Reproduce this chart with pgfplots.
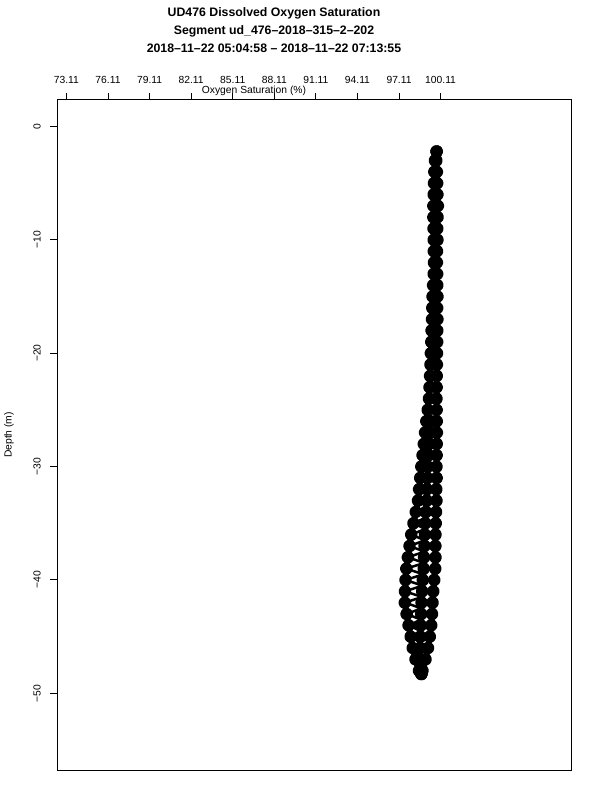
\documentclass[border=0pt]{standalone}
\usepackage{fontspec}
\setmainfont{Liberation Sans}
\usepackage{pgfplots}
\pgfplotsset{compat=1.18}
\pgfplotstableread{
x y
99.82 -2.2
99.80 -3.0
99.84 -4.0
99.86 -5.0
99.88 -6.0
99.91 -7.0
99.89 -8.0
99.87 -9.0
99.88 -10.0
99.85 -11.0
99.84 -12.0
99.86 -13.0
99.87 -14.0
99.88 -15.0
99.86 -16.0
99.88 -17.0
99.87 -18.0
99.86 -19.0
99.85 -20.0
99.84 -21.0
99.83 -22.0
99.82 -23.0
99.81 -24.0
99.82 -25.0
99.83 -26.0
99.84 -27.0
99.83 -28.0
99.82 -29.0
99.81 -30.0
99.82 -31.0
99.80 -32.0
99.81 -33.0
99.78 -34.0
99.76 -35.0
99.74 -36.0
99.73 -37.0
99.74 -38.0
99.72 -39.0
99.65 -40.0
99.58 -41.0
99.53 -42.0
99.49 -43.0
99.43 -44.0
99.33 -45.0
99.20 -46.0
99.02 -47.0
98.80 -48.0
98.72 -48.3
}\rightstrand
\pgfplotstableread{
x y
99.82 -2.2
99.70 -3.0
99.66 -4.0
99.63 -5.0
99.61 -6.0
99.59 -7.0
99.59 -8.0
99.60 -9.0
99.61 -10.0
99.62 -11.0
99.63 -12.0
99.61 -13.0
99.57 -14.0
99.53 -15.0
99.51 -16.0
99.49 -17.0
99.46 -18.0
99.44 -19.0
99.41 -20.0
99.38 -21.0
99.35 -22.0
99.31 -23.0
99.27 -24.0
99.18 -25.0
99.08 -26.0
98.99 -27.0
98.90 -28.0
98.81 -29.0
98.72 -30.0
98.64 -31.0
98.56 -32.0
98.48 -33.0
98.32 -34.0
98.15 -35.0
97.99 -36.0
97.87 -37.0
97.75 -38.0
97.64 -39.0
97.58 -40.0
97.54 -41.0
97.53 -42.0
97.66 -43.0
97.80 -44.0
97.95 -45.0
98.10 -46.0
98.30 -47.0
98.55 -48.0
98.72 -48.3
}\leftstrand
\pgfplotstableread{
x y
99.38 -26.0
99.34 -27.0
99.29 -28.0
99.24 -29.0
99.19 -30.0
99.16 -31.0
99.13 -32.0
99.11 -33.0
99.06 -34.0
99.01 -35.0
98.98 -36.0
98.95 -37.0
98.92 -38.0
98.89 -39.0
98.83 -40.0
98.78 -41.0
98.74 -42.0
98.71 -43.0
98.68 -44.0
98.65 -45.0
98.63 -46.0
98.64 -47.0
98.70 -48.0
}\midstrand
\pgfplotstableread{
x y
98.90 -28.0
99.27 -28.5
98.81 -29.0
99.22 -29.5
98.72 -30.0
99.18 -30.5
98.64 -31.0
99.15 -31.5
98.56 -32.0
99.12 -32.5
98.48 -33.0
99.09 -33.5
98.32 -34.0
99.04 -34.5
98.15 -35.0
99.00 -35.5
97.99 -36.0
98.97 -36.5
97.87 -37.0
98.94 -37.5
97.75 -38.0
98.91 -38.5
97.64 -39.0
98.86 -39.5
97.58 -40.0
98.81 -40.5
97.54 -41.0
98.76 -41.5
97.53 -42.0
98.73 -42.5
97.66 -43.0
98.70 -43.5
97.80 -44.0
98.67 -44.5
97.95 -45.0
98.64 -45.5
98.10 -46.0
98.63 -46.5
98.30 -47.0
}\zigzag
\begin{document}
\begin{tikzpicture}[x=1bp,y=1bp]
\begin{axis}[
  at={(57bp,29bp)}, anchor=south west,
  scale only axis, width=514bp, height=671bp,
  xmin=72.43, xmax=109.52, ymin=-56.85, ymax=2.34,
  axis line style={line width=1bp},
  xtick={73.11,76.11,79.11,82.11,85.11,88.11,91.11,94.11,97.11,100.11},
  xticklabels={73.11,76.11,79.11,82.11,85.11,88.11,91.11,94.11,97.11,100.11},
  ytick={0,-10,-20,-30,-40,-50},
  yticklabels={0,−10,−20,−30,−40,−50},
  xtick pos=right, xticklabel pos=right,
  ytick pos=left,
  tick align=outside, major tick length=7bp,
  tick style={line width=1bp, black},
  xticklabel style={font=\fontsize{10.3bp}{12bp}\selectfont, inner sep=0pt, anchor=south},
  yticklabel style={font=\fontsize{10.3bp}{12bp}\selectfont, inner sep=0pt, rotate=90, anchor=south},
  xticklabel shift=9bp,
  yticklabel shift=9bp,
  clip=false,
  strand/.style={black, line width=6bp, line join=round, line cap=round, mark=*, mark size=3.4bp, mark options={solid, draw=none, fill=black}},
]
\addplot[strand] table {\rightstrand};
\addplot[strand] table {\leftstrand};
\addplot[strand] table {\midstrand};
\addplot[black, line width=2.5bp, line join=round, no marks] table {\zigzag};
\end{axis}
\node[anchor=base, font=\bfseries\fontsize{12.3bp}{14bp}\selectfont] at (274,783.5) {UD476 Dissolved Oxygen Saturation};
\node[anchor=base, font=\bfseries\fontsize{12.3bp}{14bp}\selectfont] at (274,765.5) {Segment ud\_476–2018–315–2–202};
\node[anchor=base, font=\bfseries\fontsize{12.3bp}{14bp}\selectfont] at (274,747.5) {2018–11–22 05:04:58 – 2018–11–22 07:13:55};
\node[anchor=base, inner sep=1pt, font=\fontsize{10.3bp}{12bp}\selectfont] at (254,706) {Oxygen Saturation (\%)};
\node[anchor=base, rotate=90, font=\fontsize{10.3bp}{12bp}\selectfont] at (11.5,365) {Depth (m)};
\pgfresetboundingbox
\path[use as bounding box] (0,0) rectangle (600,800);
\end{tikzpicture}
\end{document}
